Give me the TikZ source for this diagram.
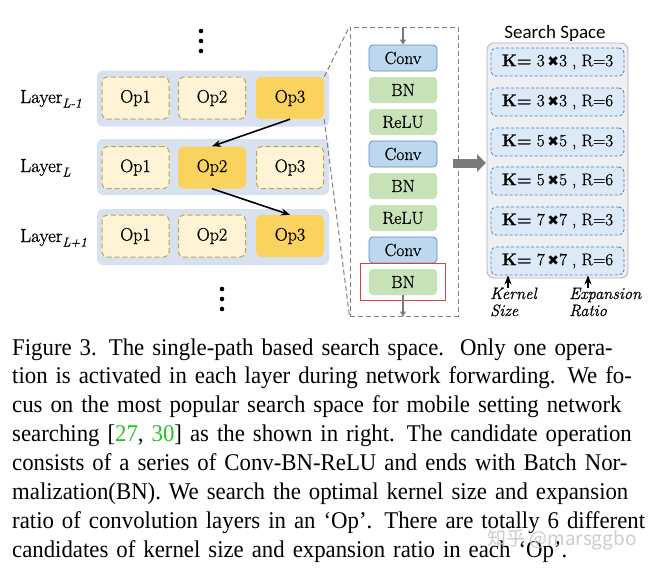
\documentclass[tikz,border=0pt]{standalone}
\usepackage{fontspec}
\newfontfamily\dfont[FakeBold=0.8]{Latin Modern Roman}
\newfontfamily\capfont[FakeStretch=0.95]{Liberation Serif}
\newfontfamily\sfont{Carlito}
\newfontfamily\symf{DejaVu Sans}
\newfontfamily\cjk{Noto Sans CJK SC}
\usetikzlibrary{arrows.meta,fit}
\definecolor{rowbg}{HTML}{D8E1EF}
\definecolor{opidlefill}{HTML}{FFF3D6}
\definecolor{opborder}{HTML}{C2A24C}
\definecolor{opactfill}{HTML}{FAD25E}
\definecolor{convfill}{HTML}{BDD7EE}
\definecolor{convdraw}{HTML}{5B8DC8}
\definecolor{greenfill}{HTML}{C8E2B8}
\definecolor{framegray}{HTML}{808080}
\definecolor{redc}{HTML}{E0403C}
\definecolor{ssfill}{HTML}{EEEFF3}
\definecolor{ssdraw}{HTML}{A8AFBD}
\definecolor{kfill}{HTML}{DCEAF8}
\definecolor{kdraw}{HTML}{4E7FB5}
\definecolor{arrgray}{HTML}{7A7A7A}
\definecolor{citeg}{HTML}{22C422}
\begin{document}
\begin{tikzpicture}[x=1pt,y=-1pt,
  rowbox/.style={fill=rowbg, rounded corners=6pt, minimum width=232pt, minimum height=56pt, inner sep=0pt},
  opidle/.style={draw=opborder, dash pattern=on 5pt off 3pt, line width=1pt, fill=opidlefill, rounded corners=5pt, minimum width=67pt, minimum height=42pt, inner sep=0pt, font=\dfont\fontsize{18}{18}\selectfont},
  opact/.style={fill=opactfill, rounded corners=5pt, minimum width=68pt, minimum height=42pt, inner sep=0pt, font=\dfont\fontsize{18}{18}\selectfont},
  layerlab/.style={anchor=base west, inner sep=0pt, font=\dfont\fontsize{19}{19}\selectfont},
  convbox/.style={fill=convfill, draw=convdraw, line width=0.8pt, rounded corners=4pt, minimum width=68pt, minimum height=26pt, inner sep=0pt, font=\dfont\fontsize{17.5}{17.5}\selectfont},
  gbox/.style={fill=greenfill, rounded corners=4pt, minimum width=68pt, minimum height=26pt, inner sep=0pt, font=\dfont\fontsize{17.5}{17.5}\selectfont},
  kbox/.style={fill=kfill, draw=kdraw, dash pattern=on 3pt off 2pt, line width=0.8pt, rounded corners=5pt, minimum width=133pt, minimum height=28pt, inner sep=0pt, font=\dfont\fontsize{17}{17}\selectfont},
  selarrow/.style={-{Stealth[length=9pt,width=7pt]}, line width=1.6pt, black},
  callout/.style={draw=framegray, line width=1pt, dash pattern=on 5pt off 3pt},
  smallarr/.style={-{Triangle[length=5pt,width=6pt]}, line width=1.2pt, draw=arrgray},
  dotc/.style={circle, fill=black, inner sep=0pt, minimum size=4.6pt},
  itlab/.style={anchor=base west, inner sep=0pt, font=\dfont\itshape\fontsize{16.5}{16.5}\selectfont}
]
\useasboundingbox (0,0) rectangle (661,570);

% dots
\node[dotc] (dt1) at (201,31) {};
\node[dotc] (dt2) at (201,41) {};
\node[dotc] (dt3) at (201,51) {};
\node[dotc] (db1) at (222,289) {};
\node[dotc] (db2) at (222,299) {};
\node[dotc] (db3) at (222,309) {};

% rows
\node[rowbox] (row1) at (213,98.5) {};
\node[rowbox] (row2) at (213,167) {};
\node[rowbox] (row3) at (213,237) {};

\node[opidle] (o11) at (135.5,98) {Op1};
\node[opidle] (o12) at (212,98) {Op2};
\node[opact]  (o13) at (290,98) {Op3};
\node[opidle] (o21) at (135.5,167.5) {Op1};
\node[opact]  (o22) at (212,167.5) {Op2};
\node[opidle] (o23) at (290,167.5) {Op3};
\node[opidle] (o31) at (135.5,236) {Op1};
\node[opidle] (o32) at (212,236) {Op2};
\node[opact]  (o33) at (290,236) {Op3};

\node[layerlab] (l1) at (20,103) {Layer\raisebox{-4.5pt}{\fontsize{13}{13}\selectfont\itshape L-1}};
\node[layerlab] (l2) at (20,172) {Layer\raisebox{-4.5pt}{\fontsize{13}{13}\selectfont\itshape L}};
\node[layerlab] (l3) at (20,242) {Layer\raisebox{-4.5pt}{\fontsize{13}{13}\selectfont\itshape L+1}};

\draw[selarrow] (o13.south) -- (o22.north);
\draw[selarrow] (o22.south) -- (o33.north);

% zoomed op
\node[callout, minimum width=108pt, minimum height=289pt, inner sep=0pt] (zf) at (404,171.5) {};
\draw[callout] (o13.north east) -- (zf.north west);
\draw[callout] (o13.south east) -- (zf.south west);

\node[convbox] (c1) at (403,58) {Conv};
\node[gbox] (b1) at (403,90) {BN};
\node[gbox] (r1) at (403,122) {ReLU};
\node[convbox] (c2) at (403,154) {Conv};
\node[gbox] (b2) at (403,186) {BN};
\node[gbox] (r2) at (403,218) {ReLU};
\node[convbox] (c3) at (403,250) {Conv};
\node[gbox] (b3) at (403,282) {BN};
\node[draw=redc, line width=1pt, fit=(b3), inner xsep=8pt, inner ysep=5pt] (sel) {};
\draw[smallarr] (zf.north -| c1.north) -- (c1.north);
\draw[smallarr] (b3.south) -- (zf.south -| b3.south);

% big gray arrow
\coordinate (ga1) at (453,163);
\coordinate (ga2) at (486,163);
\draw[-{Triangle[width=17pt,length=9pt]}, line width=9pt, draw=arrgray] (ga1) -- (ga2);

% search space
\node[fill=ssfill, draw=ssdraw, line width=0.8pt, rounded corners=7pt, minimum width=141pt, minimum height=235pt, inner sep=0pt] (ss) at (557.5,160.5) {};
\node[font=\sfont\fontsize{19}{19}\selectfont, inner sep=0pt] (sst) at (555,33) {Search Space};
\node[kbox] (k1) at (557.5,62)  {\textbf{K=} 3\,{\symf\fontsize{14}{14}\selectfont ✖}3 , R=3};
\node[kbox] (k2) at (557.5,102) {\textbf{K=} 3\,{\symf\fontsize{14}{14}\selectfont ✖}3 , R=6};
\node[kbox] (k3) at (557.5,142) {\textbf{K=} 5\,{\symf\fontsize{14}{14}\selectfont ✖}5 , R=3};
\node[kbox] (k4) at (557.5,181) {\textbf{K=} 5\,{\symf\fontsize{14}{14}\selectfont ✖}5 , R=6};
\node[kbox] (k5) at (557.5,221) {\textbf{K=} 7\,{\symf\fontsize{14}{14}\selectfont ✖}7 , R=3};
\node[kbox] (k6) at (557.5,261) {\textbf{K=} 7\,{\symf\fontsize{14}{14}\selectfont ✖}7 , R=6};

\coordinate (kt) at (508,288);
\coordinate (rt) at (588,288);
\draw[selarrow] (kt) -- (kt |- k6.south);
\draw[selarrow] (rt) -- (rt |- k6.south);
\node[itlab] (kl1) at (490,299) {Kernel};
\node[itlab] (kl2) at (490,316) {Size};
\node[itlab] (el1) at (569,299) {Expansion};
\node[itlab] (el2) at (569,316) {Ratio};

% caption
\node[anchor=base west, inner sep=0pt, text width=636pt, font=\capfont\fontsize{24}{28.9}\selectfont] (cap) at (12,355) {\noindent
\makebox[636pt][s]{Figure 3. The single-path based search space.\ \ Only one opera-}\\
\makebox[636pt][s]{tion is activated in each layer during network forwarding. We fo-}\\
\makebox[636pt][s]{cus on the most popular search space for mobile setting network}\\
\makebox[636pt][s]{searching [\textcolor{citeg}{27}, \textcolor{citeg}{30}] as the shown in right. The candidate operation}\\
\makebox[636pt][s]{consists of a series of Conv-BN-ReLU and ends with Batch Nor-}\\
\makebox[636pt][s]{malization(BN). We search the optimal kernel size and expansion}\\
\makebox[636pt][s]{ratio of convolution layers in an ‘Op’. There are totally 6 different}\\
candidates of kernel size and expansion ratio in each ‘Op’.};

\node[anchor=base west, inner sep=0pt, text=black!20, font=\cjk\fontsize{19}{19}\selectfont] (wm) at (487,545) {知乎 @marsggbo};
\end{tikzpicture}
\end{document}
